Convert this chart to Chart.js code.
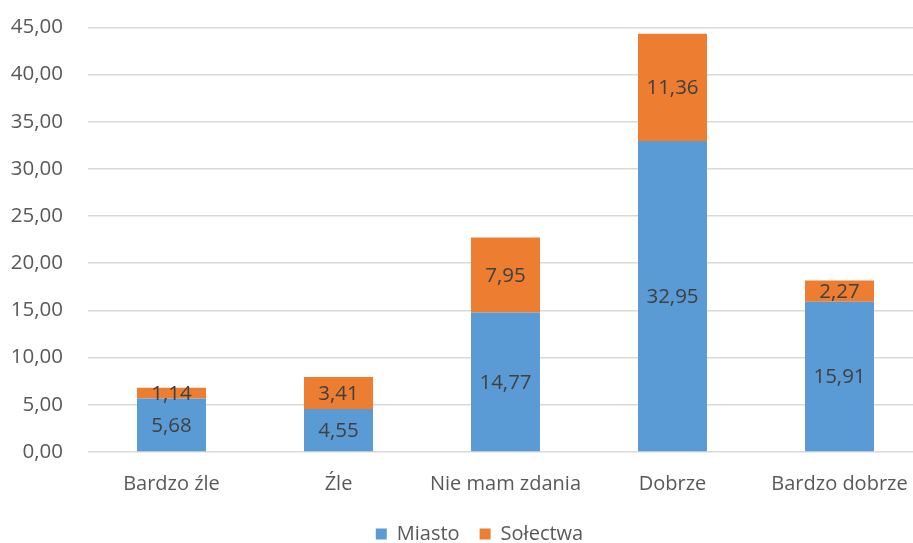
<!DOCTYPE html>
<html>
<head>
<meta charset="utf-8">
<script src="https://cdn.jsdelivr.net/npm/chart.js@4/dist/chart.umd.min.js"></script>
<style>
  html, body { margin: 0; padding: 0; background: #ffffff; overflow: hidden; width: 913px; height: 543px; }
  #wrap { width: 925px; height: 564px; position: absolute; left: 0; top: -10px; }
</style>
</head>
<body>
<div id="wrap"><canvas id="c"></canvas></div>
<script>
const categories = ["Bardzo źle", "Źle", "Nie mam zdania", "Dobrze", "Bardzo dobrze"];
const miasto = [5.68, 4.55, 14.77, 32.95, 15.91];
const solectwa = [1.14, 3.41, 7.95, 11.36, 2.27];
const seriesNames = ["Miasto", "Sołectwa"];

const fmt = v => v.toFixed(2).replace('.', ',');
const FONT = '"Open Sans", sans-serif';

const labelPlugin = {
  id: 'barLabels',
  afterDatasetsDraw(chart) {
    const ctx = chart.ctx;
    ctx.save();
    ctx.font = '20.5px ' + FONT;
    ctx.fillStyle = '#404040';
    ctx.textAlign = 'center';
    ctx.textBaseline = 'middle';
    chart.data.datasets.forEach((ds, i) => {
      const meta = chart.getDatasetMeta(i);
      meta.data.forEach((el, j) => {
        const p = el.getProps(['x', 'y', 'base'], true);
        ctx.fillText(fmt(ds.data[j]), p.x, (p.y + p.base) / 2 + 1);
      });
    });
    ctx.restore();
  }
};

const legendShift = {
  id: 'legendShift',
  afterLayout(chart) {
    if (chart.legend) { chart.legend.left += 36; }
  }
};

new Chart(document.getElementById('c'), {
  type: 'bar',
  data: {
    labels: categories,
    datasets: [
      { label: seriesNames[0], data: miasto, backgroundColor: '#5b9bd5', borderWidth: 0 },
      { label: seriesNames[1], data: solectwa, backgroundColor: '#ed7d31', borderWidth: 0 }
    ]
  },
  options: {
    responsive: true,
    maintainAspectRatio: false,
    animation: false,
    layout: { padding: { left: 0, right: 2, top: 4, bottom: 0 } },
    datasets: { bar: { categoryPercentage: 1.0, barPercentage: 0.413 } },
    scales: {
      x: {
        stacked: true,
        afterFit: s => { s.height -= 4; },
        grid: { display: false },
        border: { display: false },
        ticks: { color: '#595959', font: { family: FONT, size: 20 }, padding: 12 }
      },
      y: {
        stacked: true,
        min: 0, max: 45,
        afterFit: s => { s.width = 88; },
        ticks: {
          stepSize: 5,
          color: '#595959',
          font: { family: FONT, size: 20.5 },
          padding: 25,
          callback: v => fmt(v)
        },
        grid: { color: '#d9d9d9', lineWidth: 1.5, drawTicks: false },
        border: { display: false }
      }
    },
    plugins: {
      legend: {
        position: 'bottom',
        labels: { color: '#595959', font: { family: FONT, size: 20 }, boxWidth: 11, boxHeight: 11, padding: 20 }
      },
      tooltip: { enabled: false }
    }
  },
  plugins: [labelPlugin, legendShift]
});
</script>
</body>
</html>
